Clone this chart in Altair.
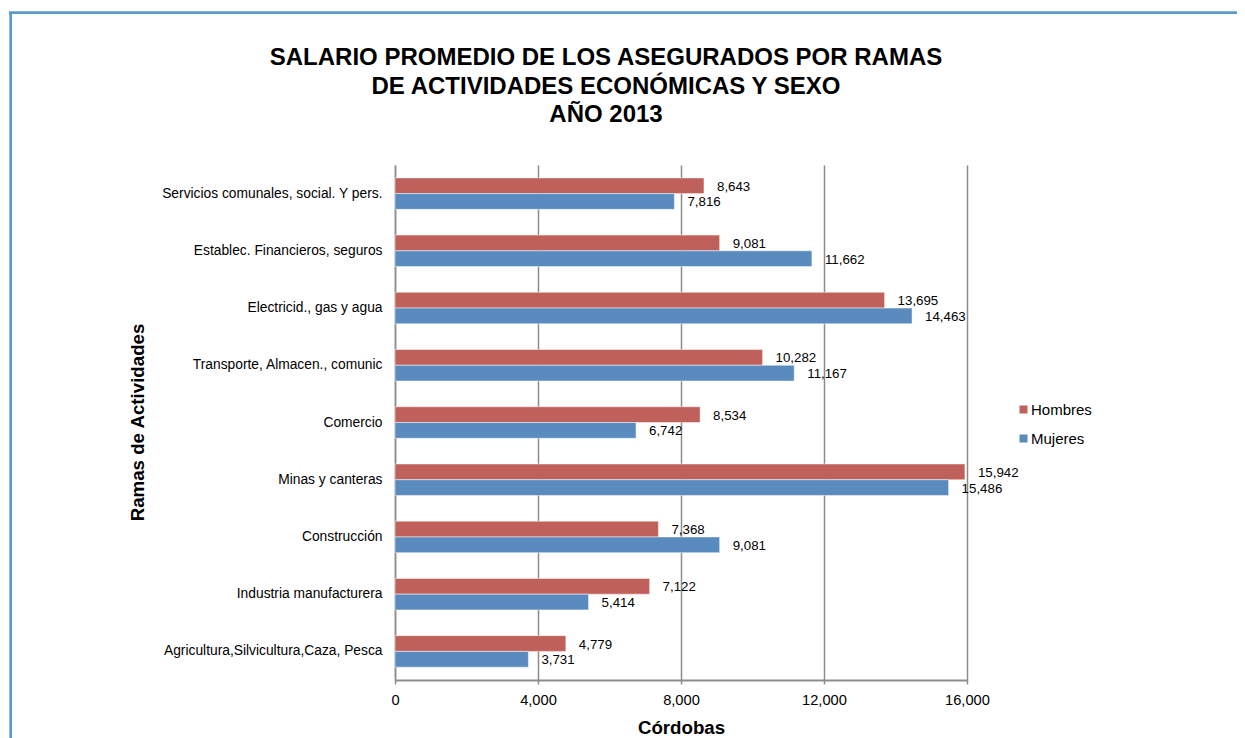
import altair as alt
import pandas as pd

categorias = [
    "Servicios comunales, social. Y pers.",
    "Establec. Financieros, seguros",
    "Electricid., gas y agua",
    "Transporte, Almacen., comunic",
    "Comercio",
    "Minas y canteras",
    "Construcción",
    "Industria manufacturera",
    "Agricultura,Silvicultura,Caza, Pesca",
]
hombres = [8643, 9081, 13695, 10282, 8534, 15942, 7368, 7122, 4779]
mujeres = [7816, 11662, 14463, 11167, 6742, 15486, 9081, 5414, 3731]
series = ["Hombres", "Mujeres"]
colores = ["#C0605A", "#5A8BBE"]
ticks_x = [0, 4000, 8000, 12000, 16000]
titulo = [
    "SALARIO PROMEDIO DE LOS ASEGURADOS POR RAMAS",
    "DE ACTIVIDADES ECONÓMICAS Y SEXO",
    "AÑO 2013",
]

rows = []
for c, h, m in zip(categorias, hombres, mujeres):
    rows.append({"cat": c, "sexo": "Hombres", "valor": h})
    rows.append({"cat": c, "sexo": "Mujeres", "valor": m})
df = pd.DataFrame(rows)

FONT = "Liberation Sans"
GRID = "#8C8C8C"
W, H = 572, 515
PAD_L, PAD_T, PAD_R, PAD_B = 387, 157, 270, 58

y_enc = alt.Y(
    "cat:N",
    sort=categorias,
    scale=alt.Scale(paddingInner=0.45, paddingOuter=0.225),
    axis=alt.Axis(
        title="Ramas de Actividades",
        ticks=False,
        labelPadding=13,
        labelFontSize=13.8,
        labelColor="#000000",
        labelLimit=400,
        domainColor=GRID,
        domainWidth=1.5,
        grid=False,
        titleFontSize=18.7,
        titleFontWeight="bold",
        titleColor="#000000",
        titleX=-258,
        titleY=257,
        titleAngle=270,
        titleAlign="center",
        titleBaseline="middle",
    ),
)
x_enc = alt.X(
    "valor:Q",
    scale=alt.Scale(domain=[0, 16000], nice=False),
    axis=alt.Axis(
        values=ticks_x,
        labelExpr="format(datum.value, ',')",
        labelFlush=False,
        labelOverlap=False,
        grid=True,
        gridColor=GRID,
        gridWidth=1.5,
        tickSize=4,
        tickColor=GRID,
        tickWidth=1.5,
        domainColor=GRID,
        domainWidth=2,
        labelFontSize=14.7,
        labelColor="#000000",
        labelPadding=8,
        title="Córdobas",
        titleFontSize=18.7,
        titleFontWeight="bold",
        titleColor="#000000",
        titleX=286,
        titleY=47,
        titleBaseline="middle",
        titleAlign="center",
    ),
)
yoff = alt.YOffset("sexo:N", sort=series, scale=alt.Scale(paddingInner=0, paddingOuter=0))

bars = alt.Chart(df).mark_bar(stroke="#FFFFFF", strokeWidth=0.8, strokeOpacity=0.6).encode(
    x=x_enc,
    y=y_enc,
    yOffset=yoff,
    color=alt.Color(
        "sexo:N",
        scale=alt.Scale(domain=series, range=colores),
        legend=alt.Legend(
            title=None,
            orient="none",
            legendX=621,
            legendY=237,
            symbolType="square",
            symbolSize=64,
            symbolStrokeWidth=0,
            labelFontSize=15,
            labelColor="#000000",
            labelOffset=0,
            rowPadding=13,
            padding=0,
        ),
    ),
)

labels = alt.Chart(df).mark_text(
    align="left", baseline="middle", dx=13, dy=1, fontSize=13.3, color="#000000"
).encode(
    x=x_enc,
    y=y_enc,
    yOffset=yoff,
    text=alt.Text("valor:Q", format=","),
)

one = alt.Data(values=[{}])
title_mark = alt.Chart(one).mark_text(
    text=titulo,
    align="center",
    baseline="alphabetic",
    fontSize=24,
    fontWeight="bold",
    lineHeight=28.7,
    color="#000000",
).encode(x=alt.value(211), y=alt.value(-100))

frame_top = alt.Chart(one).mark_rule(color="#5A9BC9", strokeWidth=2.7).encode(
    x=alt.value(-386), x2=alt.value(W + PAD_R), y=alt.value(-152.3)
)
frame_left = alt.Chart(one).mark_rule(color="#5A9BC9", strokeWidth=2.7).encode(
    x=alt.value(-384.3), y=alt.value(-152.3), y2=alt.value(H + PAD_B)
)

chart = (
    alt.layer(bars, labels, title_mark, frame_top, frame_left)
    .properties(
        width=W,
        height=H,
        autosize=alt.AutoSizeParams(type="none"),
        padding={"left": PAD_L, "top": PAD_T, "right": PAD_R, "bottom": PAD_B},
    )
    .configure(font=FONT)
    .configure_view(stroke=None)
)

chart.save("out.html", embed_options={"renderer": "svg", "actions": False})
